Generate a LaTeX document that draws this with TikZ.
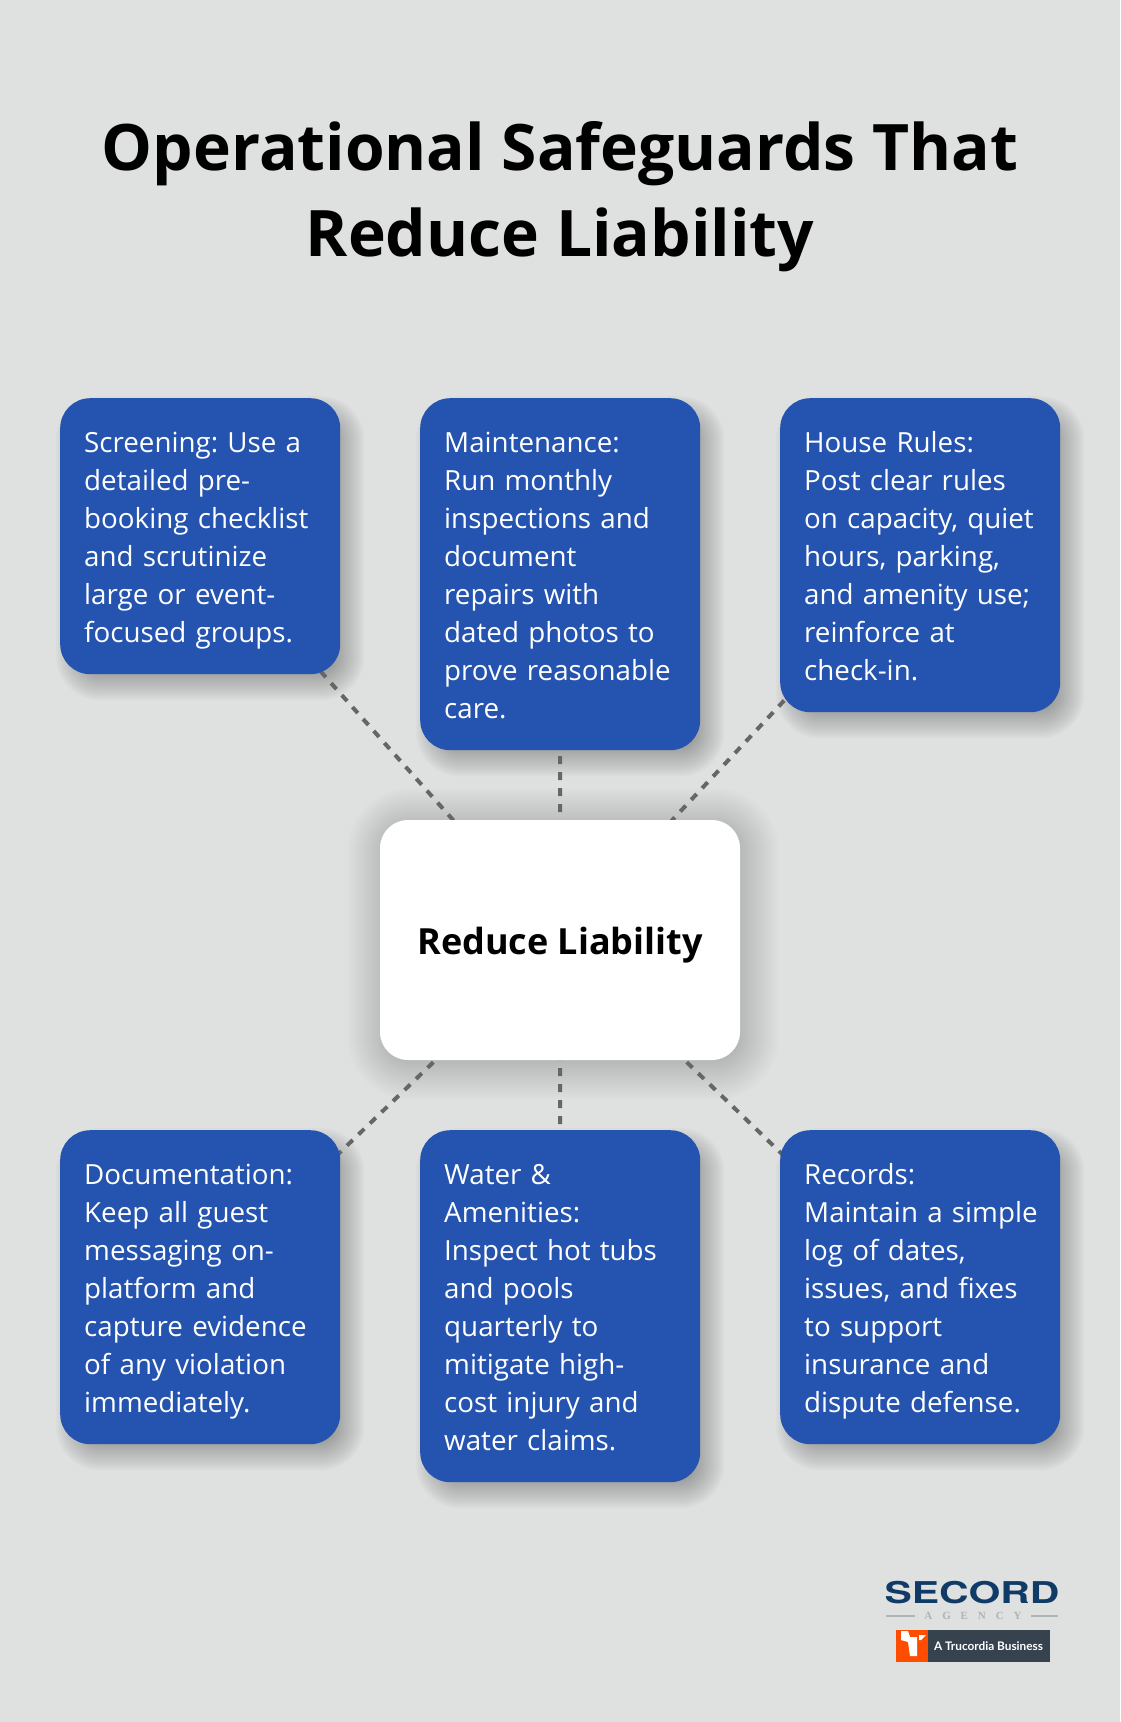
\documentclass[tikz,border=0pt]{standalone}
\usepackage{fontspec}
\setmainfont{Open Sans}
\newfontfamily\wordmarkfont{TeX Gyre Heros}
\newfontfamily\agencyfont[LetterSpace=90]{Liberation Serif}
\newfontfamily\badgefont{Lato}
\definecolor{pagegrey}{RGB}{223,225,224}
\definecolor{cardblue}{RGB}{36,83,176}
\definecolor{linkgrey}{RGB}{102,102,102}
\definecolor{logonavy}{RGB}{15,59,102}
\definecolor{logosilver}{RGB}{176,180,182}
\definecolor{badgeslate}{RGB}{54,67,78}
\definecolor{badgeorange}{RGB}{255,77,0}
\pgfdeclarelayer{page}
\pgfdeclarelayer{shadows}
\pgfdeclarelayer{links}
\pgfsetlayers{page,shadows,links,main}
\newcommand{\cardlines}{\frenchspacing\hyphenpenalty=10000 \rule[-8pt]{0pt}{38pt}}
\tikzset{card/.style = {anchor = north west, fill = cardblue, text = white, rounded corners = 30, inner sep = 24, text width = 232, align = left, font = \fontsize{27.75}{38}\selectfont, execute at begin node = \cardlines, execute at end node = \rule[-8pt]{0pt}{38pt}}}
\tikzset{hubcard/.style = {fill = white, rounded corners = 28, minimum width = 360, minimum height = 240, text height = 38, font = \fontsize{36}{48}\bfseries\selectfont}}
\tikzset{link/.style = {linkgrey, line width = 4, dash pattern = on 8 off 8}}

\begin{document}
\begin{tikzpicture}[x = 1pt, y = -1pt]
      \useasboundingbox (0, 0) rectangle (1120, 1722);
      \begin{pgfonlayer}{page}
        \fill [pagegrey] (0, 0) rectangle (1120, 1722);
      \end{pgfonlayer}

      \node (title) [align = center, font = \fontsize{64.1}{86.5}\bfseries\selectfont] at (560, 196.5) {Operational Safeguards That\\Reduce Liability};

      \node (hub) [hubcard] at (560, 940) {Reduce Liability};

      \node (screening) [card] at (60, 398) {Screening: Use a\\detailed pre-\\booking checklist\\and scrutinize\\large or event-\\focused groups.};
      \node (maintenance) [card] at (420, 398) {Maintenance:\\Run monthly\\inspections and\\document\\repairs with\\dated photos to\\prove reasonable\\care.};
      \node (rules) [card] at (780, 398) {House Rules:\\Post clear rules\\on capacity, quiet\\hours, parking,\\and amenity use;\\reinforce at\\check-in.};
      \node (documentation) [card] at (60, 1130) {Documentation:\\Keep all guest\\messaging on-\\platform and\\capture evidence\\of any violation\\immediately.};
      \node (water) [card] at (420, 1130) {Water \&\\Amenities:\\Inspect hot tubs\\and pools\\quarterly to\\mitigate high-\\cost injury and\\water claims.};
      \node (records) [card] at (780, 1130) {Records:\\\mbox{Maintain a simple}\\log of dates,\\issues, and fixes\\to support\\insurance and\\dispute defense.};

      \begin{pgfonlayer}{links}
        \foreach \b in {screening, maintenance, rules, documentation, water, records} {
          \draw [link] (hub.center) -- (\b.center);
        }
      \end{pgfonlayer}

      \begin{pgfonlayer}{shadows}
        \foreach \b in {screening, maintenance, rules, documentation, water, records} {
          \foreach \g in {-14, -12, ..., 14} {
            \fill [black, opacity = 0.019, rounded corners = {30 + \g}] ([shift = {(10 - \g, 12 + \g)}] \b.south west) rectangle ([shift = {(10 + \g, 12 - \g)}] \b.north east);
          }
        }
        \foreach \g in {-20, -18, ..., 36} {
          \fill [black, opacity = 0.009, rounded corners = {28 + \g}] ([shift = {(3 - \g, 4 + \g)}] hub.south west) rectangle ([shift = {(3 + \g, 4 - \g)}] hub.north east);
        }
      \end{pgfonlayer}

      % logo
      \node (secord) [logonavy, font = \wordmarkfont\fontsize{30}{30}\bfseries\selectfont, transform shape, xscale = 1.364] at (972, 1593) {SECORD};
      \node (agency) [logosilver, font = \agencyfont\fontsize{11}{11}\bfseries\selectfont] at (973, 1616) {AGENCY};
      \draw [logosilver, line width = 1.4] (886, 1616) -- (915, 1616);
      \draw [logosilver, line width = 1.4] (1031, 1616) -- (1058, 1616);
      \fill [badgeslate] (928, 1630) rectangle (1050, 1662);
      \fill [badgeorange] (896, 1630) rectangle (928, 1662);
      \fill [white] (901, 1631) -- (908, 1631) -- (910, 1637) -- (917, 1637) -- (917, 1656) -- (910, 1656) -- (908, 1642) -- (901, 1640) -- cycle;
      \fill [white] (919, 1635) -- (926, 1635) -- (921, 1640) -- (919, 1640) -- cycle;
      \node (badge) [white, font = \badgefont\fontsize{11.8}{12}\bfseries\selectfont] at (988.5, 1646) {A Trucordia Business};
    \end{tikzpicture}
\end{document}
